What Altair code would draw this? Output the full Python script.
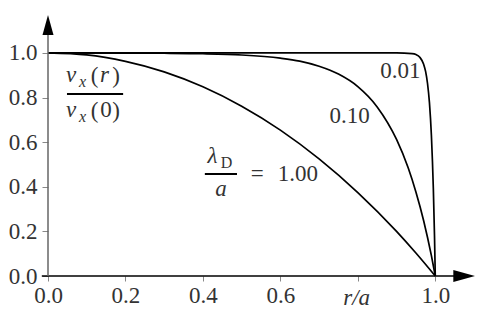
import altair as alt
import pandas as pd

# --- curve data ---
r_100 = [0.0, 0.1, 0.2, 0.3, 0.4, 0.5, 0.6, 0.7, 0.8, 0.9, 0.95, 1.0]
v_100 = [1.0, 0.991, 0.962, 0.915, 0.848, 0.761, 0.654, 0.525, 0.374, 0.200, 0.103, 0.0]

r_010 = [0.0, 0.2, 0.3, 0.4, 0.5, 0.6, 0.65, 0.7, 0.75, 0.8, 0.85, 0.9, 0.93, 0.95, 0.97, 0.99, 1.0]
v_010 = [1.0, 0.9995, 0.9986, 0.9964, 0.9907, 0.9765, 0.963, 0.940, 0.905, 0.849, 0.758, 0.612, 0.485, 0.377, 0.248, 0.091, 0.0]

r_001 = [0.0, 0.9, 0.94, 0.95, 0.96, 0.97, 0.975, 0.98, 0.985, 0.99, 0.995, 0.998, 1.0]
v_001 = [1.0, 1.0, 0.997, 0.993, 0.981, 0.949, 0.917, 0.863, 0.776, 0.630, 0.392, 0.181, 0.0]

x_ticks = [0.0, 0.2, 0.4, 0.6, 0.8, 1.0]
y_ticks = [0.0, 0.2, 0.4, 0.6, 0.8, 1.0]

# --- annotation text ---
ital_text = ["v", "x", "r", "v", "x", "λ", "a", "r/a"]
ital_x    = [0.0594, 0.0892, 0.146, 0.0594, 0.0892, 0.425, 0.447, 0.797]
ital_y    = [0.870, 0.8475, 0.870, 0.713, 0.6906, 0.507, 0.359, -0.130]
ital_size = [23, 16, 23, 23, 16, 23, 23, 23]

up_text = ["(", ")", "(", "0", ")", "D", "=", "1.00", "0.01", "0.10"]
up_x    = [0.120, 0.1757, 0.120, 0.1499, 0.1757, 0.461, 0.540, 0.645, 0.910, 0.779]
up_y    = [0.8655, 0.8655, 0.7085, 0.713, 0.7085, 0.484, 0.426, 0.426, 0.888, 0.686]
up_size = [23, 23, 23, 23, 23, 16, 23, 23, 23, 23]

FONT = "Liberation Serif"
TXT = "#333"

curves = pd.concat([
    pd.DataFrame({"r": r_100, "v": v_100, "curve": "1.00"}),
    pd.DataFrame({"r": r_010, "v": v_010, "curve": "0.10"}),
    pd.DataFrame({"r": r_001, "v": v_001, "curve": "0.01"}),
])

xs = alt.Scale(domain=[0, 1.1], nice=False, zero=False)
ys = alt.Scale(domain=[0, 1.17], nice=False, zero=False)

xaxis = alt.Axis(values=x_ticks, format=".1f", domain=False, grid=False, title=None,
                 labelExpr="abs(datum.value - 0.8) < 0.01 ? '' : datum.label",
                 labelFlush=False, labelOverlap=False,
                 tickColor="#888", tickSize=5, tickWidth=1,
                 labelFont=FONT, labelFontSize=23, labelColor=TXT, labelPadding=3)
yaxis = alt.Axis(values=y_ticks, format=".1f", domain=False, grid=False, title=None,
                 labelFlush=False, labelOverlap=False,
                 tickColor="#888", tickSize=6, tickWidth=1,
                 labelFont=FONT, labelFontSize=23, labelColor=TXT, labelPadding=5)

lines = alt.Chart(curves).mark_line(color="black", strokeWidth=1.7, interpolate="monotone").encode(
    x=alt.X("r:Q", scale=xs, axis=xaxis),
    y=alt.Y("v:Q", scale=ys, axis=yaxis),
    detail="curve:N",
)

# axis lines and arrows
xline = alt.Chart(pd.DataFrame({"x": [-0.016], "x2": [1.075], "y": [0.0]})).mark_rule(
    color="black", strokeWidth=1.5).encode(x=alt.X("x:Q", scale=xs), x2="x2:Q", y=alt.Y("y:Q", scale=ys))
yline = alt.Chart(pd.DataFrame({"x": [0.0], "y": [0.0], "y2": [1.13]})).mark_rule(
    color="#666", strokeWidth=1.5).encode(x=alt.X("x:Q", scale=xs), y=alt.Y("y:Q", scale=ys), y2="y2:Q")
xarrow = alt.Chart(pd.DataFrame({"x": [1.075], "y": [0.0]})).mark_point(
    shape="M-1,-0.55L1,0L-1,0.55Z", filled=True, color="black", opacity=1, size=484).encode(
    x=alt.X("x:Q", scale=xs), y=alt.Y("y:Q", scale=ys))
yarrow = alt.Chart(pd.DataFrame({"x": [0.0], "y": [1.125]})).mark_point(
    shape="M-0.55,1L0,-1L0.55,1Z", filled=True, color="black", opacity=1, size=400).encode(
    x=alt.X("x:Q", scale=xs), y=alt.Y("y:Q", scale=ys))

# fraction bars
bars = alt.Chart(pd.DataFrame({"x": [0.049, 0.405], "x2": [0.194, 0.488], "y": [0.816, 0.457]})).mark_rule(
    color="black", strokeWidth=2).encode(x=alt.X("x:Q", scale=xs), x2="x2:Q", y=alt.Y("y:Q", scale=ys))

ital = alt.Chart(pd.DataFrame({"x": ital_x, "y": ital_y, "t": ital_text, "s": ital_size})).mark_text(
    font=FONT, fontStyle="italic", color=TXT, baseline="alphabetic", align="center").encode(
    x=alt.X("x:Q", scale=xs), y=alt.Y("y:Q", scale=ys), text="t:N", size=alt.Size("s:Q", scale=None, legend=None))
up = alt.Chart(pd.DataFrame({"x": up_x, "y": up_y, "t": up_text, "s": up_size})).mark_text(
    font=FONT, color=TXT, baseline="alphabetic", align="center").encode(
    x=alt.X("x:Q", scale=xs), y=alt.Y("y:Q", scale=ys), text="t:N", size=alt.Size("s:Q", scale=None, legend=None))

chart = alt.layer(lines, xline, yline, xarrow, yarrow, bars, ital, up).properties(
    width=426, height=261,
    padding={"left": 40, "top": 7, "right": 1, "bottom": 34},
    autosize="none",
    background="white",
).configure_view(stroke=None).configure_text(font=FONT).configure_axis(labelFont=FONT)

chart.save("out.html", embed_options={"renderer": "svg", "actions": False})
